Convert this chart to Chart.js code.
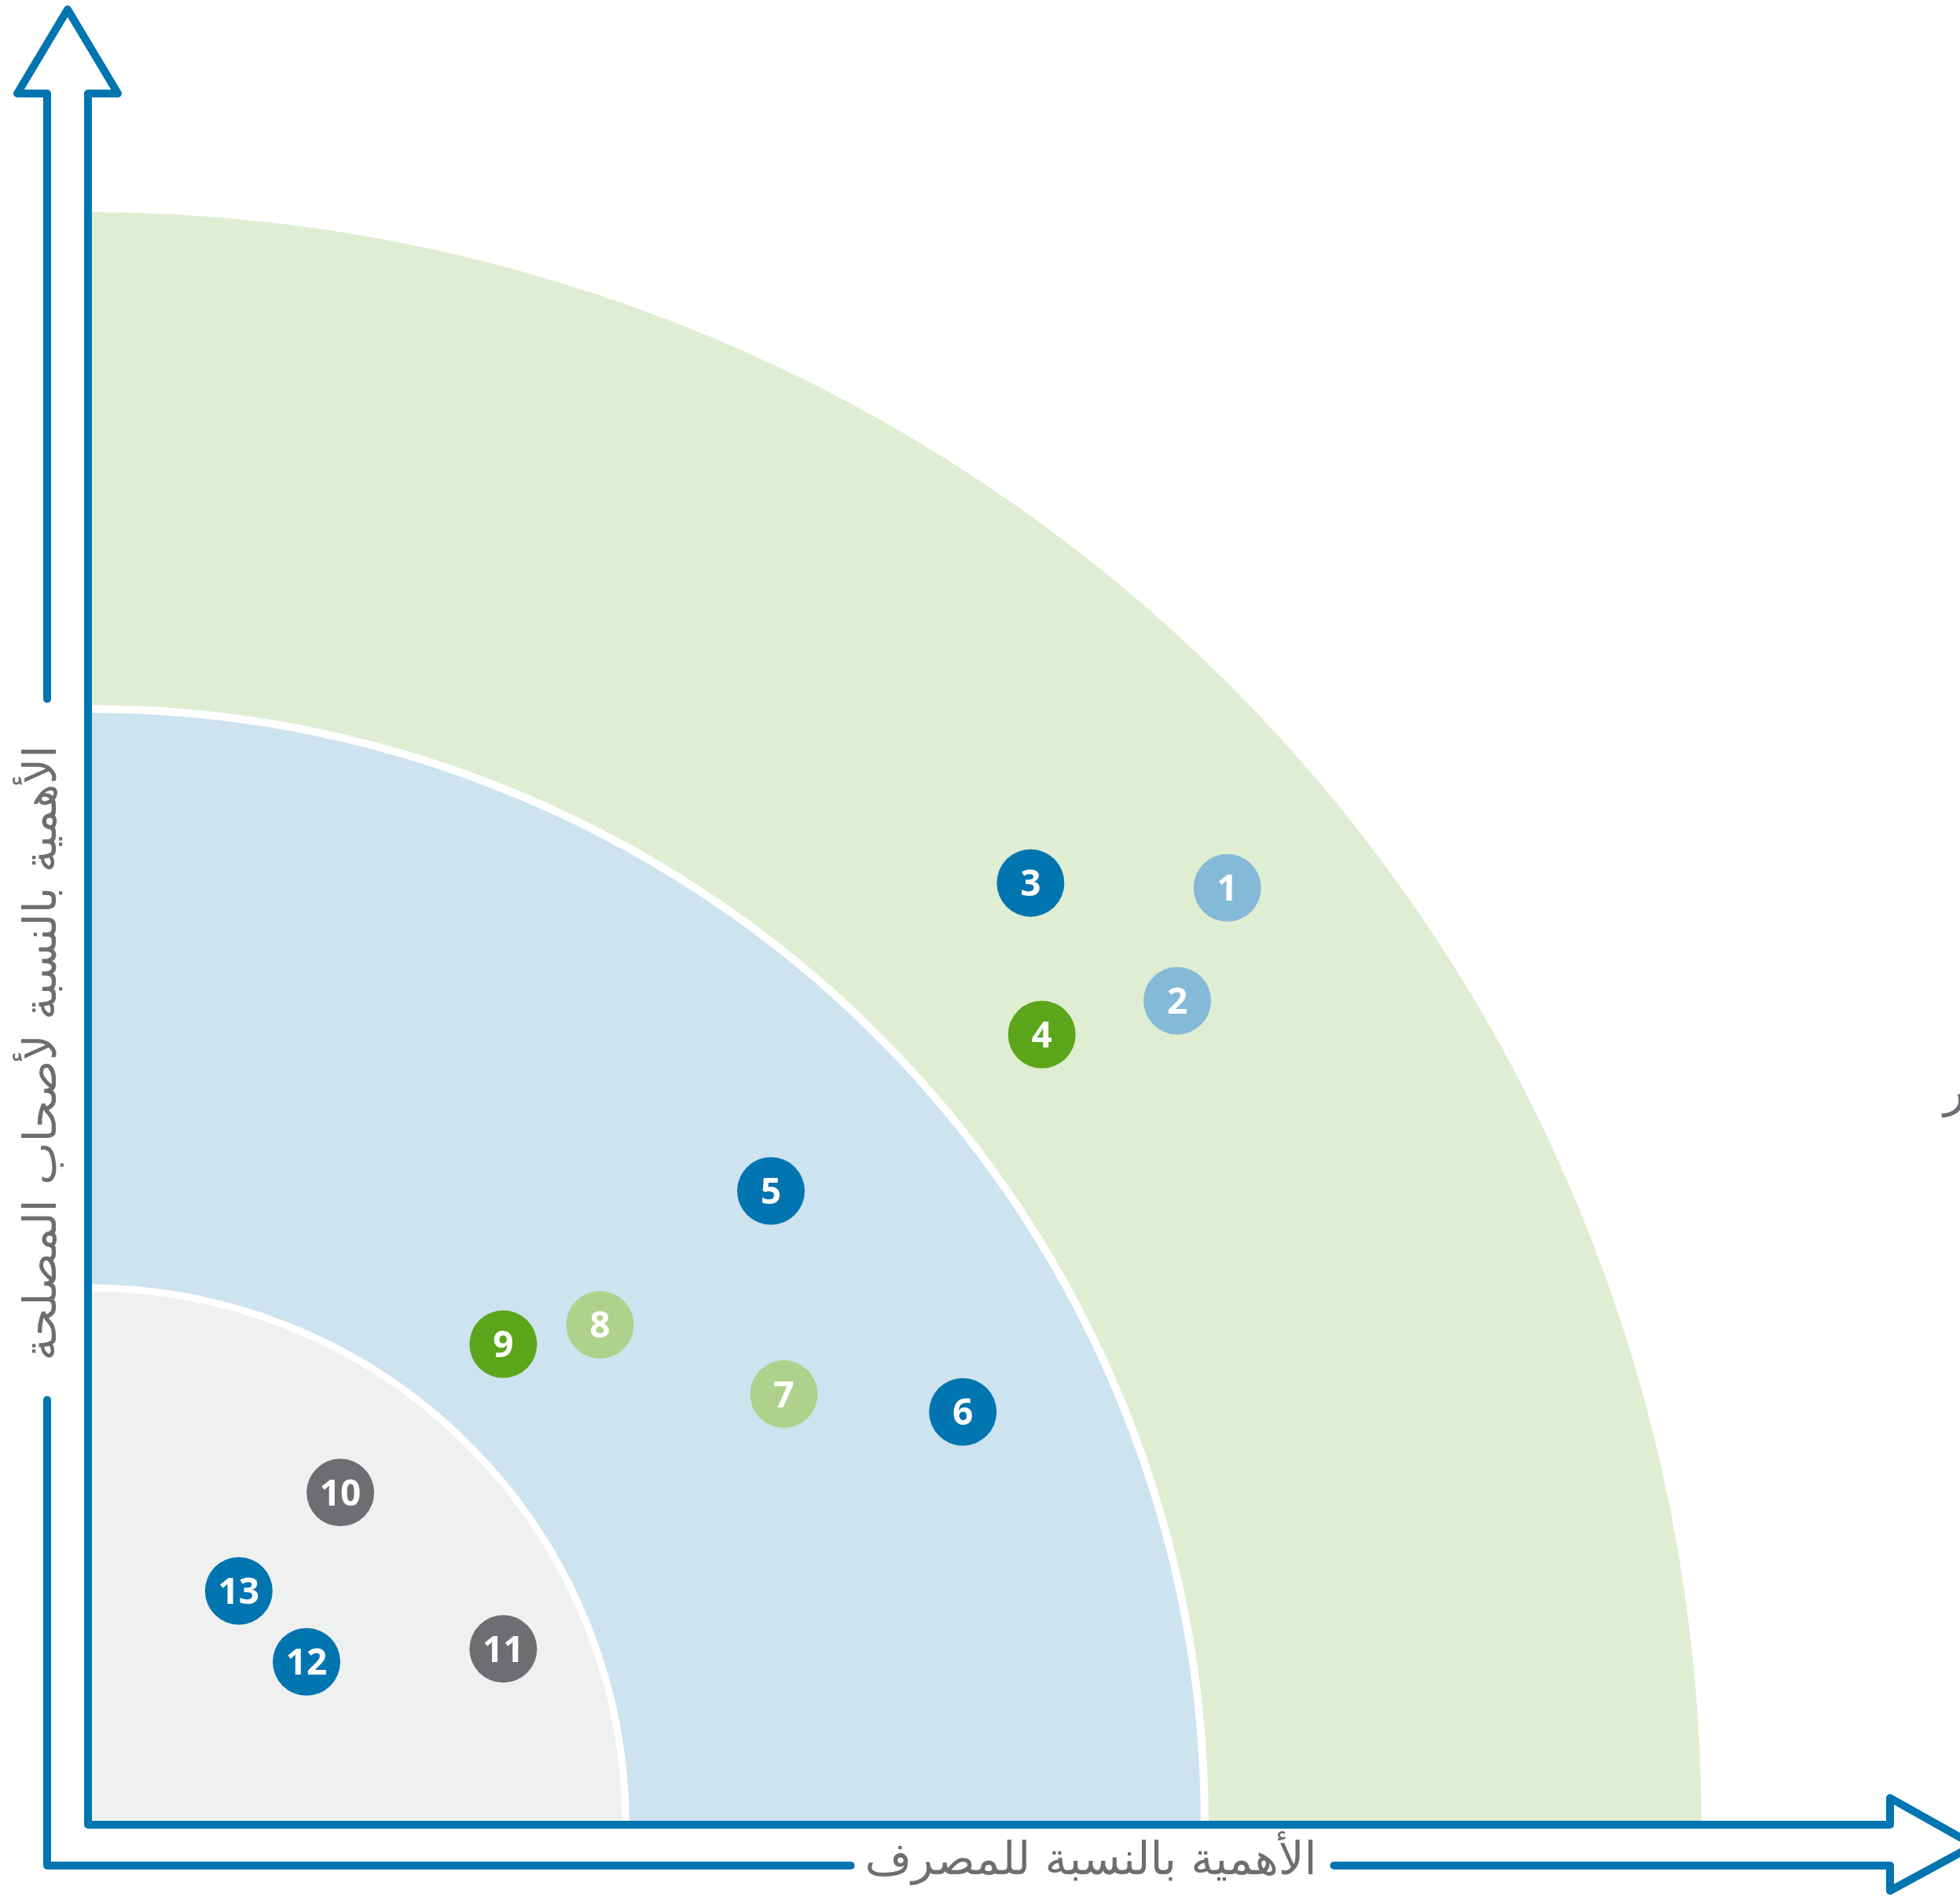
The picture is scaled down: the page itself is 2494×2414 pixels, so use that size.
<!DOCTYPE html>
<html>
<head>
<meta charset="utf-8">
<script src="https://cdn.jsdelivr.net/npm/chart.js@4/dist/chart.umd.min.js"></script>
<style>
  body { margin: 0; background: #ffffff; }
  #wrap { width: 2494px; height: 2414px; }
</style>
</head>
<body>
<div id="wrap"><canvas id="matriz" width="2494" height="2414"></canvas></div>
<script>
const itemIds = ['1', '2', '3', '4', '5', '6', '7', '8', '9', '10', '11', '12', '13'];
const bankImportance = [70.6, 67.5, 58.4, 59.1, 42.3, 54.2, 43.1, 31.7, 25.7, 15.6, 25.7, 13.5, 9.3];
const stakeholderImportance = [58.1, 51.1, 58.4, 49.0, 39.3, 25.6, 26.7, 31.0, 29.8, 20.6, 10.9, 10.1, 14.5];
const itemGroups = ['lightBlue', 'lightBlue', 'blue', 'green', 'blue', 'blue', 'lightGreen', 'lightGreen', 'green', 'gray', 'gray', 'blue', 'blue'];
const zoneRadii = [100, 69.2, 33.3];
const xAxisLabel = 'الأهمية بالنسبة للمصرف';
const yAxisLabel = 'الأهمية بالنسبة لأصحاب المصلحة';
const sideText = 'المخاطر';

const groupColors = {
  blue: '#0075b0',
  lightBlue: '#84bad8',
  green: '#5ba61a',
  lightGreen: '#aed18c',
  gray: '#6d6e71'
};
const zoneColors = ['#dfedd2', '#cde3ef', '#eff1f0'];
const axisBlue = '#0075b0';
const labelGray = '#6d6e71';

const points = itemIds.map((id, i) => ({ x: bankImportance[i], y: stakeholderImportance[i] }));

// fit a text into a given width by adjusting the font size
function fitFont(ctx, text, width, base) {
  ctx.font = base + 'px "DejaVu Sans"';
  const w = ctx.measureText(text).width;
  return Math.min(60, base * width / w);
}

const zonas = {
  id: 'zonas',
  beforeDatasetsDraw(chart) {
    const { ctx, scales: { x, y } } = chart;
    const cx = x.getPixelForValue(0);
    const cy = y.getPixelForValue(0);
    ctx.save();
    zoneRadii.forEach((r, i) => {
      const rp = x.getPixelForValue(r) - cx;
      ctx.beginPath();
      ctx.moveTo(cx, cy);
      ctx.arc(cx, cy, rp, -Math.PI / 2, 0);
      ctx.closePath();
      ctx.fillStyle = zoneColors[i];
      ctx.fill();
      if (i > 0) {
        ctx.beginPath();
        ctx.arc(cx, cy, rp, -Math.PI / 2, 0);
        ctx.strokeStyle = '#ffffff';
        ctx.lineWidth = i == 1 ? 10 : 9;
        ctx.stroke();
      }
    });
    ctx.restore();
  }
};

const eixos = {
  id: 'eixos',
  afterDatasetsDraw(chart) {
    const { ctx, chartArea: a, scales: { x, y } } = chart;
    const left = x.getPixelForValue(0) - 1;
    const bottom = y.getPixelForValue(0);
    const gap = 52;
    const outL = left - gap;
    const outB = bottom + gap;
    const midX = (left + outL) / 2;
    const midY = (bottom + outB) / 2;
    const headW = 64, headH = 107;

    // label sizes
    const xSize = fitFont(ctx, xAxisLabel, 575, 48);
    const ySize = fitFont(ctx, yAxisLabel, 783, 48);
    const xLabelX = 1388;
    const yLabelY = 1340;
    ctx.font = xSize + 'px "DejaVu Sans"';
    const xw = ctx.measureText(xAxisLabel).width;
    ctx.font = ySize + 'px "DejaVu Sans"';
    const yw = ctx.measureText(yAxisLabel).width;

    ctx.save();
    ctx.strokeStyle = axisBlue;
    ctx.lineWidth = 10;
    ctx.lineJoin = 'round';
    ctx.lineCap = 'round';

    ctx.beginPath();
    ctx.moveTo(outL, yLabelY - yw / 2 - 59);
    ctx.lineTo(outL, a.top);
    ctx.lineTo(midX - headW, a.top);
    ctx.lineTo(midX, a.top - headH);
    ctx.lineTo(midX + headW, a.top);
    ctx.lineTo(left, a.top);
    ctx.lineTo(left, bottom);
    ctx.lineTo(a.right, bottom);
    ctx.lineTo(a.right, midY - 60);
    ctx.lineTo(a.right + headH, midY);
    ctx.lineTo(a.right, midY + 58);
    ctx.lineTo(a.right, outB);
    ctx.lineTo(xLabelX + xw / 2 + 22, outB);
    ctx.stroke();

    ctx.beginPath();
    ctx.moveTo(xLabelX - xw / 2 - 18, outB);
    ctx.lineTo(outL, outB);
    ctx.lineTo(outL, yLabelY + yw / 2 + 50);
    ctx.stroke();

    ctx.fillStyle = labelGray;
    ctx.textAlign = 'center';
    ctx.textBaseline = 'middle';
    ctx.font = xSize + 'px "DejaVu Sans"';
    ctx.fillText(xAxisLabel, xLabelX, outB - 4);

    ctx.translate(outL, yLabelY);
    ctx.rotate(-Math.PI / 2);
    ctx.font = ySize + 'px "DejaVu Sans"';
    ctx.fillText(yAxisLabel, 0, -4);
    ctx.restore();

    ctx.save();
    ctx.fillStyle = labelGray;
    ctx.font = xSize + 'px "DejaVu Sans"';
    ctx.textAlign = 'left';
    ctx.textBaseline = 'alphabetic';
    ctx.fillText(sideText, 2473, 1408);
    ctx.restore();

    // numbers inside the circles
    const meta = chart.getDatasetMeta(0);
    ctx.save();
    ctx.fillStyle = '#ffffff';
    ctx.font = 'bold 46px "Open Sans"';
    ctx.textAlign = 'center';
    ctx.textBaseline = 'alphabetic';
    meta.data.forEach((p, i) => {
      ctx.fillText(itemIds[i], p.x, p.y + 16.5);
    });
    ctx.restore();
  }
};

new Chart(document.getElementById('matriz'), {
  type: 'scatter',
  data: {
    labels: itemIds,
    datasets: [{
      data: points,
      backgroundColor: itemGroups.map(g => groupColors[g]),
      borderWidth: 0,
      pointRadius: 43,
      pointHoverRadius: 43
    }]
  },
  options: {
    responsive: false,
    animation: false,
    devicePixelRatio: 1,
    layout: { padding: { left: 113, right: 89, top: 119, bottom: 92 } },
    plugins: {
      legend: { display: false },
      tooltip: { enabled: false }
    },
    scales: {
      x: { type: 'linear', min: 0, max: 111.7, display: false },
      y: { type: 'linear', min: 0, max: 107.36, display: false }
    }
  },
  plugins: [zonas, eixos]
});
</script>
</body>
</html>
